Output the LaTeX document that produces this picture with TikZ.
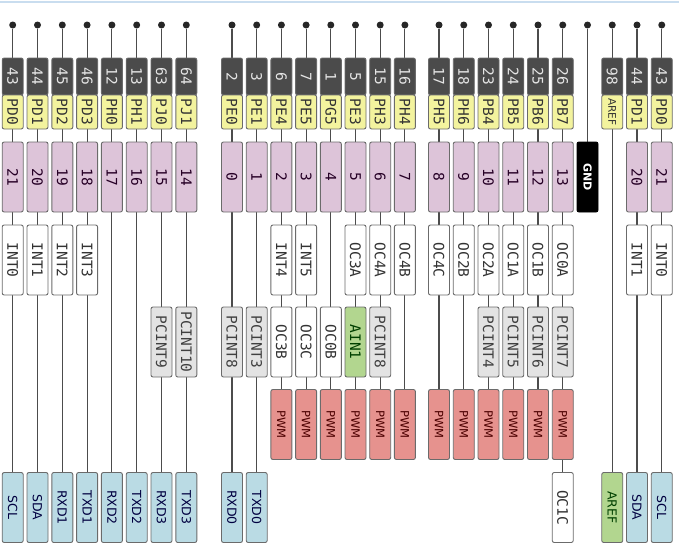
\documentclass[tikz,border=0pt]{standalone}
\usepackage{fontspec}
\setmonofont{DejaVu Sans Mono}
\setsansfont{DejaVu Sans}
\usetikzlibrary{backgrounds}

\definecolor{pinnum}{HTML}{4B4B4B}
\definecolor{portyellow}{HTML}{F3F39E}
\definecolor{digpink}{HTML}{DDC4D9}
\definecolor{pcgray}{HTML}{E3E3E3}
\definecolor{aingreen}{HTML}{B2D68F}
\definecolor{pwmred}{HTML}{E6928E}
\definecolor{serblue}{HTML}{BADBE4}
\definecolor{edge}{HTML}{6B6B6B}
\definecolor{topline}{HTML}{C9DDEF}

\begin{document}
\begin{tikzpicture}[
    x=1pt, y=-1pt,
    box/.style={
        draw=edge,
        line width=0.9pt,
        rounded corners=2pt,
        rotate=-90,
        inner sep=0pt,
        minimum width=70pt,
        minimum height=21pt,
        font=\fontsize{14.5}{15}\selectfont\ttfamily
    },
    numbox/.style={box, fill=pinnum, text=white!90!black, minimum width=37pt},
    portbox/.style={box, fill=portyellow, text=black!80, minimum width=34pt},
    arefport/.style={portbox, font=\fontsize{10.5}{11}\selectfont\sffamily},
    digbox/.style={box, fill=digpink, text=black!70!violet},
    intbox/.style={box, fill=white, text=black!80},
    pcbox/.style={box, fill=pcgray, text=black!75},
    ainbox/.style={box, fill=aingreen, text=green!25!black},
    pwmbox/.style={box, fill=pwmred, text=red!30!black, font=\fontsize{11.5}{12}\selectfont\sffamily},
    serbox/.style={box, fill=serblue, text=blue!25!black, font=\fontsize{12.5}{13}\selectfont\sffamily},
    arefbox/.style={serbox, fill=aingreen, text=green!25!black},
    gndbox/.style={box, fill=black, draw=black, text=white, font=\fontsize{11}{12}\selectfont\sffamily\bfseries},
    pindot/.style={circle, fill=black!85, inner sep=0pt, minimum size=7pt},
    wire/.style={draw=black!70, line width=1.1pt}
]
\useasboundingbox (0,0) rectangle (679,546);

% Top rule
\draw[topline, line width=2pt] (0,1.5) -- (679,1.5);

% Pin heads: dot, pin number, port, digital pin
\foreach \id/\x/\num/\port/\dig in {
    a1/12.7/43/PD0/21, a2/37.5/44/PD1/20, a3/62.3/45/PD2/19, a4/87.1/46/PD3/18,
    a5/111.9/12/PH0/17, a6/136.7/13/PH1/16, a7/161.5/63/PJ0/15, a8/186.3/64/PJ1/14,
    b1/232.0/2/PE0/0, b2/256.7/3/PE1/1, b3/281.4/6/PE4/2, b4/306.1/7/PE5/3,
    b5/330.8/1/PG5/4, b6/355.5/5/PE3/5, b7/380.2/15/PH3/6, b8/404.9/16/PH4/7,
    c1/439.0/17/PH5/8, c2/463.75/18/PH6/9, c3/488.5/23/PB4/10, c4/513.25/24/PB5/11,
    c5/538.0/25/PB6/12, c6/562.75/26/PB7/13, c9/637.0/44/PD1/20, c10/661.75/43/PD0/21}
{
    \node[pindot] (\id-dot) at (\x,25) {};
    \node[numbox] (\id-num) at (\x,76.5) {\num};
    \node[portbox] (\id-port) at (\x,112) {\port};
    \node[digbox] (\id-dig) at (\x,177) {\dig};
}

% GND and AREF
\node[pindot] (gnd-dot) at (587.5,25) {};
\node[gndbox] (gnd-box) at (587.5,177) {GND};

\node[pindot] (c8-dot) at (612.25,25) {};
\node[numbox] (c8-num) at (612.25,76.5) {98};
\node[arefport] (c8-port) at (612.25,112) {AREF};
\node[arefbox] (c8-ser) at (612.25,507.5) {AREF};

% Alternate functions
\foreach \id/\row/\y/\sty/\txt in {
    a1/int/260/intbox/INT0, a2/int/260/intbox/INT1,
    a3/int/260/intbox/INT2, a4/int/260/intbox/INT3,
    a7/pc/342/pcbox/PCINT9, a8/pc/342/pcbox/PCINT10,
    b1/pc/342/pcbox/PCINT8, b2/pc/342/pcbox/PCINT3,
    b3/int/260/intbox/INT4, b3/pc/342/intbox/OC3B,
    b4/int/260/intbox/INT5, b4/pc/342/intbox/OC3C,
    b5/pc/342/intbox/OC0B,
    b6/int/260/intbox/OC3A, b6/pc/342/ainbox/AIN1,
    b7/int/260/intbox/OC4A, b7/pc/342/pcbox/PCINT8,
    b8/int/260/intbox/OC4B,
    c1/int/260/intbox/OC4C, c2/int/260/intbox/OC2B,
    c3/int/260/intbox/OC2A, c3/pc/342/pcbox/PCINT4,
    c4/int/260/intbox/OC1A, c4/pc/342/pcbox/PCINT5,
    c5/int/260/intbox/OC1B, c5/pc/342/pcbox/PCINT6,
    c6/int/260/intbox/OC0A, c6/pc/342/pcbox/PCINT7,
    c6/ser/507.5/intbox/OC1C,
    c9/int/260/intbox/INT1, c10/int/260/intbox/INT0}
    \node[\sty] (\id-\row) at (\id-dig |- 0,\y) {\txt};

% PWM row
\foreach \id in {b3,b4,b5,b6,b7,b8,c1,c2,c3,c4,c5,c6}
    \node[pwmbox] (\id-pwm) at (\id-dig |- 0,424.5) {PWM};

% Serial / I2C row
\foreach \id/\txt in {a1/SCL, a2/SDA, a3/RXD1, a4/TXD1, a5/RXD2, a6/TXD2,
    a7/RXD3, a8/TXD3, b1/RXD0, b2/TXD0, c9/SDA, c10/SCL}
    \node[serbox] (\id-ser) at (\id-dig |- 0,507.5) {\txt};

% Wires behind the boxes
\begin{pgfonlayer}{background}
\foreach \id/\last in {a1/ser, a2/ser, a3/ser, a4/ser, a5/ser, a6/ser, a7/ser, a8/ser,
    b1/ser, b2/ser, b3/pwm, b4/pwm, b5/pwm, b6/pwm, b7/pwm, b8/pwm,
    c1/pwm, c2/pwm, c3/pwm, c4/pwm, c5/pwm, c6/ser, c8/ser, c9/ser, c10/ser}
    \draw[wire] (\id-dot) -- (\id-\last);
\draw[wire] (gnd-dot) -- (gnd-box);
\end{pgfonlayer}

\end{tikzpicture}
\end{document}
